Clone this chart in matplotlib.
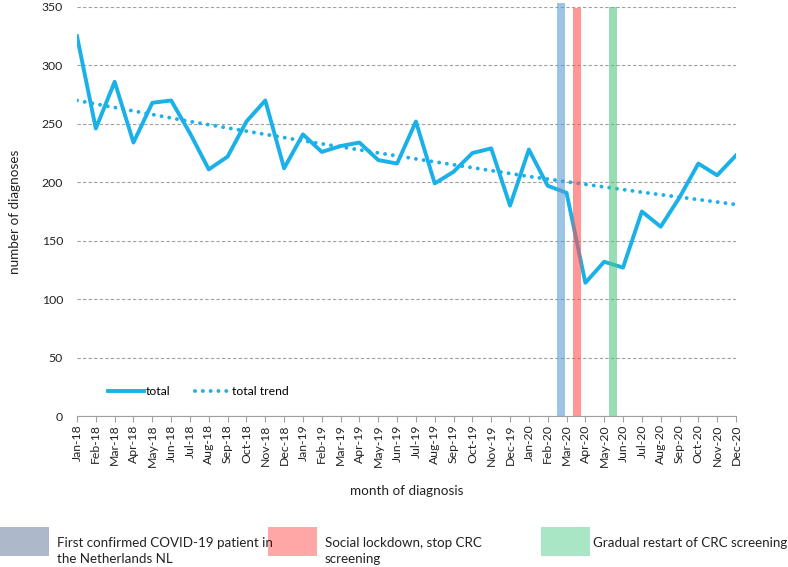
"CRC diagnoses per month 2018-2020 with COVID-19 events."

import numpy as np
from matplotlib import pyplot as plt
from matplotlib.patches import Rectangle

# ---------------------------------------------------------------------------
# Data
# ---------------------------------------------------------------------------
months = ["Jan", "Feb", "Mar", "Apr", "May", "Jun",
          "Jul", "Aug", "Sep", "Oct", "Nov", "Dec"]
labels = [f"{m}-{y}" for y in ("18", "19", "20") for m in months]

total = [325, 246, 286, 234, 268, 270, 242, 211, 222, 252, 270, 212,
         241, 226, 231, 234, 219, 216, 252, 199, 209, 225, 229, 180,
         228, 197, 191, 114, 132, 127, 175, 162, 187, 216, 206, 223]

# trend line (month index, value)
trend_idx = [0, 6, 12, 18, 24, 30, 35]
trend_vals = [270, 252, 235.5, 220, 205, 191.5, 181]

event_pos = [25.72, 26.54, 28.48]
event_top = [353, 349, 350]
event_colors = ["#5C9BD5", "#FF5252", "#53C882"]
event_legend_colors = ["#ADB9CA", "#FFA7A7", "#A8E6C5"]
event_texts = [["First confirmed COVID-19 patient in", "the Netherlands NL"],
               ["Social lockdown, stop CRC", "screening"],
               ["Gradual restart of CRC screening"]]

plt.rcParams['font.family'] = ['Lato', 'DejaVu Sans']
text_color = "#222222"

# ---------------------------------------------------------------------------
# Plot
# ---------------------------------------------------------------------------
fig = plt.figure(figsize=(7.88, 5.67), dpi=100)
ax = fig.add_axes([0.0977, 0.2663, 0.8363, 0.7214])

x = np.arange(len(total))
line_color = "#1AB0E8"
ax.plot(x, total, color=line_color, lw=2.8, label="total", zorder=3)
ax.plot(trend_idx, trend_vals, color=line_color, lw=2.8, linestyle=(0, (0.01, 2.0)),
        dash_capstyle="round", label="total trend", zorder=3)

for pos, top, col in zip(event_pos, event_top, event_colors):
    ax.bar(pos, top, width=0.44, color=col, alpha=0.6, zorder=4, clip_on=False)

ax.set_xlim(0, len(total) - 1)
ax.set_ylim(0, 350)
ax.set_yticks(range(0, 351, 50))
ax.set_xticks(x)
ax.set_xticklabels(labels, rotation=90, fontsize=8.8, color=text_color)
ax.tick_params(axis="y", length=0, labelsize=8.8, labelcolor=text_color, pad=10)
ax.tick_params(axis="x", length=4, color="#A0A0A0", pad=2)
ax.grid(axis="y", color="#A0A0A0", linestyle=(0, (3, 2)), lw=0.8)
ax.set_axisbelow(True)
for side in ("top", "right", "left"):
    ax.spines[side].set_visible(False)
ax.spines["bottom"].set_color("#A0A0A0")

ax.set_ylabel("number of diagnoses", fontsize=9.7, color=text_color, labelpad=15)
ax.set_xlabel("month of diagnosis", fontsize=9.7, color=text_color, labelpad=13)

ax.legend(loc="lower left", bbox_to_anchor=(0.031, 0.02), ncol=2, frameon=False,
          fontsize=8.8, handlelength=2.9, handletextpad=0.15, columnspacing=2.0)

# Bottom legend for the events
box_x = [0.0, 0.340, 0.6866]
text_x = [0.0723, 0.4124, 0.7525]
for bx, tx, col, lines in zip(box_x, text_x, event_legend_colors, event_texts):
    fig.patches.append(Rectangle((bx, 0.0194), 0.0622, 0.0511,
                                 transform=fig.transFigure,
                                 facecolor=col, edgecolor="none"))
    for i, line in enumerate(lines):
        fig.text(tx, 0.0353 - i * 0.0282, line, fontsize=9.6, color=text_color,
                 va="baseline")

fig.savefig("out.png", dpi=100)
